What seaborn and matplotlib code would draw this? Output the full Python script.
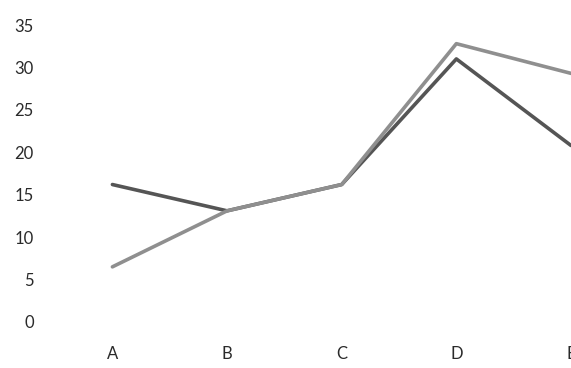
import matplotlib
matplotlib.use("Agg")
import matplotlib.pyplot as plt
import pandas as pd
import seaborn as sns

# values
categorias = ["A", "B", "C", "D", "E"]
serie_escura = [16.2, 13.1, 16.2, 31.0, 20.8]
serie_clara = [6.5, 13.1, 16.2, 32.8, 29.3]
ticks_y = [0, 5, 10, 15, 20, 25, 30, 35]

df = pd.DataFrame({
    "categoria": categorias * 2,
    "valor": serie_escura + serie_clara,
    "serie": ["escura"] * 5 + ["clara"] * 5,
})
df["pos"] = df["categoria"].map({c: i for i, c in enumerate(categorias)})

sns.set_theme(style="white")
plt.rcParams["font.family"] = ["Lato", "DejaVu Sans"]

fig = plt.figure(figsize=(5.71, 3.68), dpi=100)
ax = fig.add_axes([45 / 571, 46 / 368, (571 - 45) / 571, (322 - 25) / 368])

sns.lineplot(
    data=df,
    x="pos",
    y="valor",
    hue="serie",
    hue_order=["escura", "clara"],
    palette={"escura": "#555555", "clara": "#8f8f8f"},
    linewidth=2.6,
    legend=False,
    ax=ax,
)

ax.set_xlim(-0.588, 3.98)
ax.set_ylim(0, 35)
ax.set_xticks(range(len(categorias)))
ax.set_xticklabels(categorias)
ax.set_yticks(ticks_y)
ax.set(xlabel="", ylabel="")
ax.tick_params(axis="x", length=0, pad=17, labelsize=12, labelcolor="#2a2a2a")
ax.tick_params(axis="y", length=0, pad=8, labelsize=12, labelcolor="#2a2a2a")
sns.despine(ax=ax, left=True, bottom=True)
ax.grid(False)

fig.savefig("out.png", dpi=100)
